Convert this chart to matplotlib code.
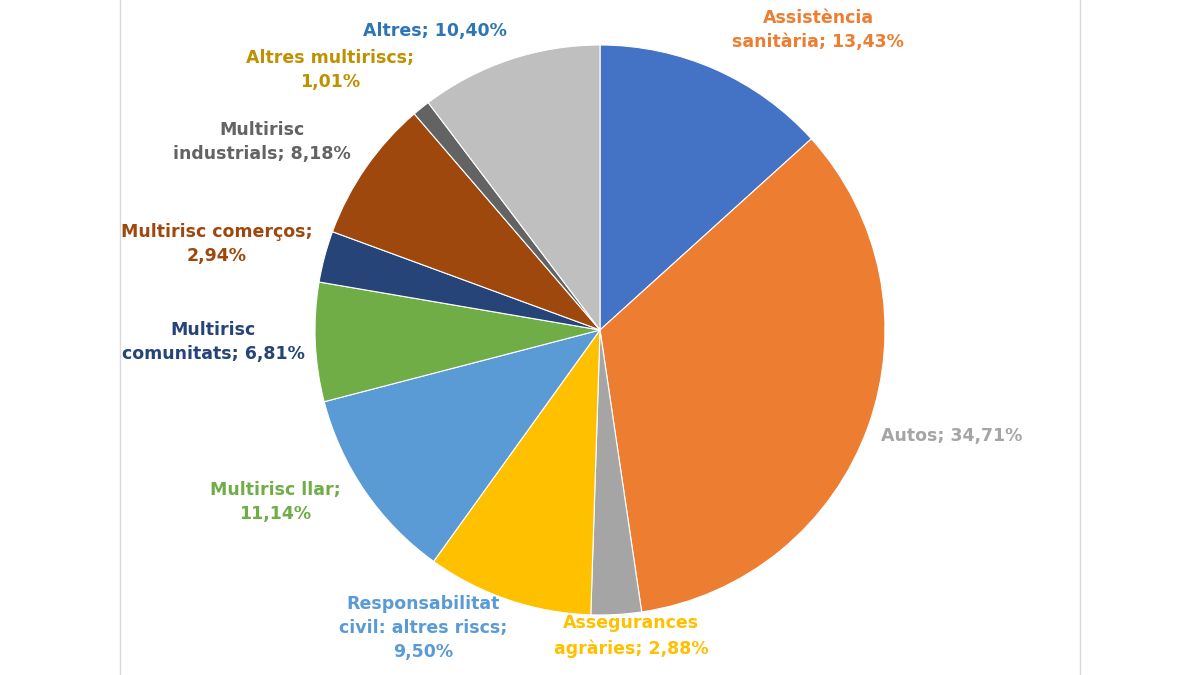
import matplotlib.pyplot as plt

labels = ["Assistència\nsanitària; 13,43%", "Autos; 34,71%", "Assegurances\nagràries; 2,88%",
          "Responsabilitat\ncivil: altres riscs;\n9,50%", "Multirisc llar;\n11,14%",
          "Multirisc\ncomunitats; 6,81%", "Multirisc comerços;\n2,94%",
          "Multirisc\nindustrials; 8,18%", "Altres multiriscs;\n1,01%", "Altres; 10,40%"]
values = [13.43, 34.71, 2.88, 9.50, 11.14, 6.81, 2.94, 8.18, 1.01, 10.40]
colors = ["#4472C4", "#ED7D31", "#A5A5A5", "#FFC000", "#5B9BD5", "#70AD47",
          "#264478", "#9E480E", "#636363", "#BFBFBF"]
label_colors = ["#ED7D31", "#A5A5A5", "#FFC000", "#5B9BD5", "#70AD47", "#264478",
                "#9E480E", "#636363", "#BF9000", "#2E75B6"]
# label centres in pixels (from top-left)
label_px = [(818, 30), (952, 436), (631, 636), (423, 628), (275, 502), (213, 342),
            (217, 244), (262, 142), (330, 70), (435, 31)]

R = 285.0
cx, cy = 600, 330
fig = plt.figure(figsize=(12, 6.75), dpi=100)
ax = fig.add_axes([0, 0, 1, 1])
ax.pie(values, colors=colors, startangle=90, counterclock=False, radius=1,
       wedgeprops=dict(linewidth=0.8, edgecolor="white"))
ax.set_xlim(-cx / R, (1200 - cx) / R)
ax.set_ylim(-(675 - cy) / R, cy / R)
ax.set_aspect("equal")
ax.axis("off")

for lab, col, (px, py) in zip(labels, label_colors, label_px):
    ax.text((px - cx) / R, (cy - py) / R, lab, color=col, fontsize=12.5,
            fontweight="bold", ha="center", va="center", linespacing=1.45)

for x in (120, 1080):
    fig.add_artist(plt.Line2D([x / 1200, x / 1200], [0, 1], color="#D9D9D9", lw=1))

fig.savefig("out.png", dpi=100, facecolor="white")
